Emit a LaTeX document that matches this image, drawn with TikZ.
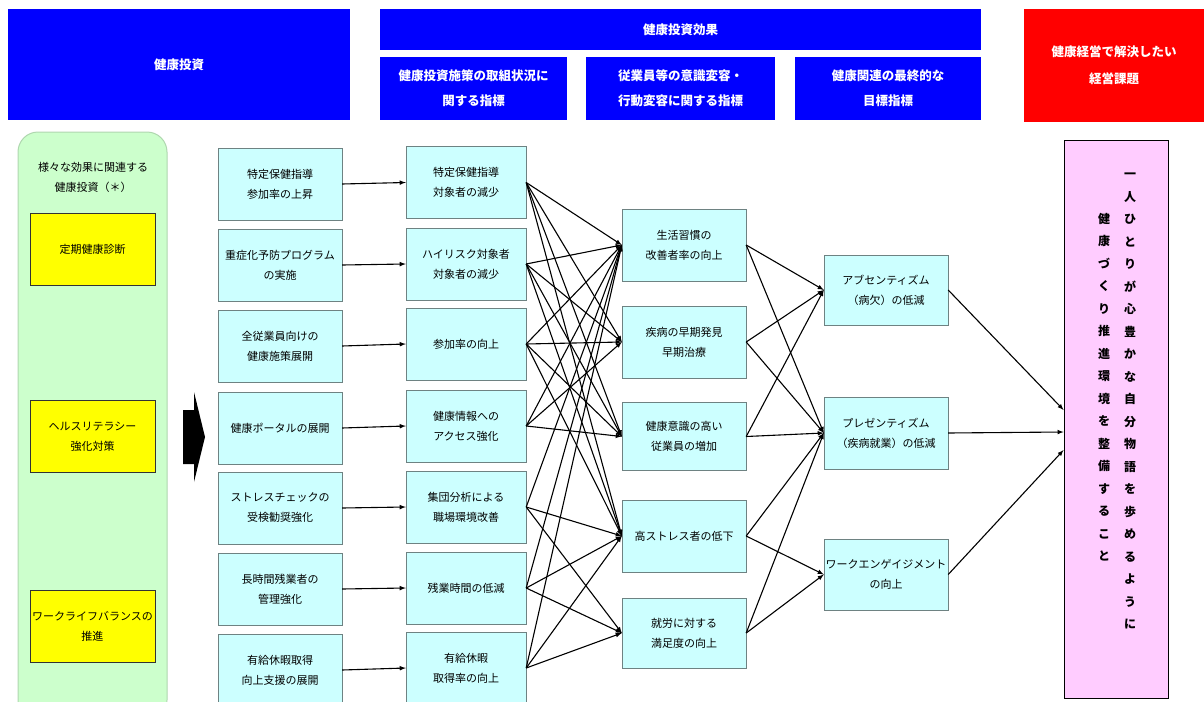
\documentclass[tikz,border=0pt]{standalone}
\usepackage{fontspec}
\setmainfont{Noto Sans CJK JP}
\usetikzlibrary{arrows}
\definecolor{hdrblue}{RGB}{0,0,255}
\definecolor{hdrred}{RGB}{255,0,0}
\definecolor{boxcyan}{RGB}{204,255,255}
\definecolor{boxedge}{RGB}{110,130,130}
\definecolor{grnfill}{RGB}{204,255,204}
\definecolor{grnedge}{RGB}{175,215,175}
\definecolor{boxpink}{RGB}{255,204,255}
\definecolor{boxyellow}{RGB}{255,255,0}
\tikzset{
  hdr/.style={fill=hdrblue, text=white, font=\fontsize{12.5}{25}\selectfont\bfseries, align=center, inner sep=0pt},
  item/.style={draw=boxedge, fill=boxcyan, minimum width=124pt, minimum height=72pt, align=center, font=\fontsize{11}{20}\selectfont, inner sep=0pt},
  ybox/.style={draw=black!80, fill=boxyellow, minimum width=125pt, minimum height=72pt, align=center, font=\fontsize{11}{20}\selectfont, inner sep=0pt},
  link/.style={line width=1.1pt, -latex},
}
\begin{document}
\begin{tikzpicture}[x=1pt,y=-1pt]
\useasboundingbox (0,0) rectangle (1204,701);
\clip (0,0) rectangle (1204,701);
% headers
\node[hdr, minimum width=342pt, minimum height=111pt] (hinv) at (179,64.5) {健康投資};
\node[hdr, minimum width=601pt, minimum height=41pt] (heff) at (680.5,29.5) {健康投資効果};
\node[hdr, minimum width=187pt, minimum height=63pt] (hsub1) at (473.5,88.5) {健康投資施策の取組状況に\\関する指標};
\node[hdr, minimum width=189pt, minimum height=63pt] (hsub2) at (680.5,88.5) {従業員等の意識変容・\\行動変容に関する指標};
\node[hdr, minimum width=186pt, minimum height=63pt] (hsub3) at (888,88.5) {健康関連の最終的な\\目標指標};
\node[hdr, fill=hdrred, minimum width=180pt, minimum height=113pt, font=\fontsize{12.5}{27}\selectfont\bfseries] (hgoal) at (1114,65.5) {健康経営で解決したい\\経営課題};
% left panel
\draw[grnedge, fill=grnfill, line width=1pt, rounded corners=20pt] (18,132) rectangle (167,720);
\node[align=center, font=\fontsize{11}{20}\selectfont] (note) at (93,177) {様々な効果に関連する\\健康投資（＊）};
\node[ybox] (y1) at (92.5,249) {定期健康診断};
\node[ybox] (y2) at (92.5,436.5) {ヘルスリテラシー\\強化対策};
\node[ybox] (y3) at (92.5,626) {ワークライフバランスの\\推進};
\fill (183,410) -- (194,410) -- (194,392) -- (205,437) -- (194,482) -- (194,464) -- (183,464) -- cycle;
% investments
\node[item] (a1) at (280,184) {特定保健指導\\参加率の上昇};
\node[item] (a2) at (280,265) {重症化予防プログラム\\の実施};
\node[item] (a3) at (280,346) {全従業員向けの\\健康施策展開};
\node[item] (a4) at (280,428) {健康ポータルの展開};
\node[item] (a5) at (280,508) {ストレスチェックの\\受検勧奨強化};
\node[item] (a6) at (280,589) {長時間残業者の\\管理強化};
\node[item] (a7) at (280,670) {有給休暇取得\\向上支援の展開};
% indicators
\node[item, minimum width=120pt] (b1) at (466,182.5) {特定保健指導\\対象者の減少};
\node[item, minimum width=120pt] (b2) at (466,264) {ハイリスク対象者\\対象者の減少};
\node[item, minimum width=120pt] (b3) at (466,344) {参加率の向上};
\node[item, minimum width=120pt] (b4) at (466,426) {健康情報への\\アクセス強化};
\node[item, minimum width=120pt] (b5) at (466,507) {集団分析による\\職場環境改善};
\node[item, minimum width=120pt] (b6) at (466,588) {残業時間の低減};
\node[item, minimum width=120pt] (b7) at (466,668) {有給休暇\\取得率の向上};
% changes
\node[item] (c1) at (684,245) {生活習慣の\\改善者率の向上};
\node[item] (c2) at (684,342) {疾病の早期発見\\早期治療};
\node[item, minimum height=68pt] (c3) at (684,436.5) {健康意識の高い\\従業員の増加};
\node[item] (c4) at (684,536) {高ストレス者の低下};
\node[item, minimum height=70pt] (c5) at (684,633) {就労に対する\\満足度の向上};
% final targets
\node[item, minimum height=70pt] (d1) at (886,290) {アブセンティズム\\（病欠）の低減};
\node[item] (d2) at (886,433) {プレゼンティズム\\（疾病就業）の低減};
\node[item, minimum height=71pt] (d3) at (886,574.5) {ワークエンゲイジメント\\の向上};
% goal
\node[draw=black, fill=boxpink, minimum width=104pt, minimum height=558pt, line width=0.8pt] (goal) at (1116,419) {};
\node[anchor=north, align=center, inner sep=0pt, font=\fontsize{12}{22.5}\selectfont\bfseries] (goaltxt1) at (1130,173) {一\\人\\ひ\\と\\り\\が\\心\\豊\\か\\な\\自\\分\\物\\語\\を\\歩\\め\\る\\よ\\う\\に};
\node[anchor=north, align=center, inner sep=0pt, font=\fontsize{12}{22.5}\selectfont\bfseries] (goaltxt2) at (1104,213) {健\\康\\づ\\く\\り\\推\\進\\環\\境\\を\\整\\備\\す\\る\\こ\\と};
% connectors
\foreach \i in {1,...,7}
  \draw[link] (a\i.east) -- (b\i.west);
\foreach \s/\t in {b1/c1,b1/c2,b1/c3,b1/c4,b2/c1,b2/c2,b2/c3,b2/c4,b3/c1,b3/c2,b3/c3,b3/c4,
                   b4/c1,b4/c2,b4/c3,b5/c1,b5/c4,b5/c5,b6/c1,b6/c4,b6/c5,b7/c1,b7/c4,b7/c5}
  \draw[link] (\s.east) -- (\t.west);
\foreach \s/\t in {c1/d1,c1/d2,c2/d1,c2/d2,c3/d1,c3/d2,c4/d2,c4/d3,c5/d2,c5/d3}
  \draw[link] (\s.east) -- (\t.west);
\draw[link] (d1.east) -- ([yshift=9pt]goal.west);
\draw[link] (d2.east) -- ([yshift=-13pt]goal.west);
\draw[link] (d3.east) -- ([yshift=-31pt]goal.west);
\end{tikzpicture}
\end{document}
